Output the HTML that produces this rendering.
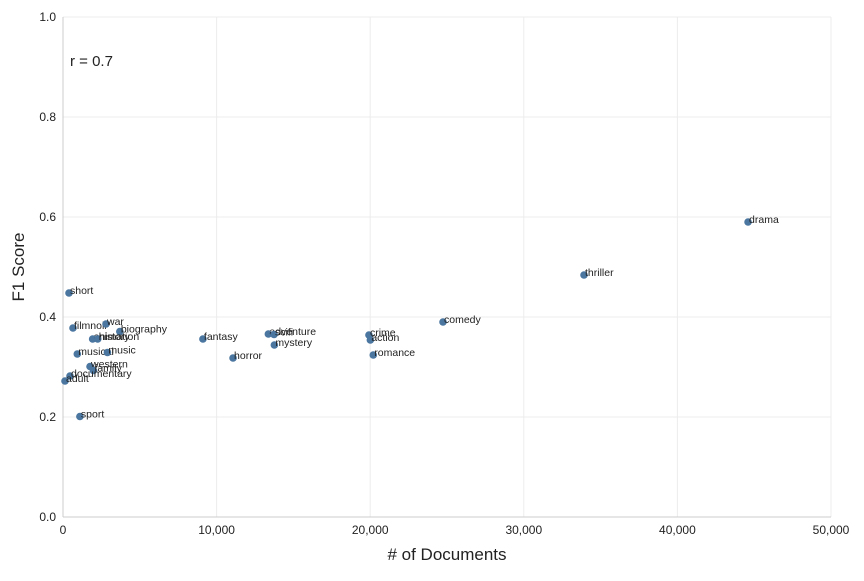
<!DOCTYPE html>
<html><head><meta charset="utf-8"><style>
body{margin:0;background:#fff;font-family:"Liberation Sans",sans-serif;}
text{font-family:"Liberation Sans",sans-serif;fill:#222;}
</style></head><body>
<svg id="chart" width="864" height="576" xmlns="http://www.w3.org/2000/svg">
<g id="grid"></g>
<g id="axes"></g>
<g id="marks"></g>
<text x="70" y="66" font-size="15">r = 0.7</text>
<text x="447" y="560" font-size="17" text-anchor="middle"># of Documents</text>
<text transform="translate(24,267) rotate(-90)" font-size="17" text-anchor="middle">F1 Score</text>
</svg>
<script>
const genres=["short","filmnoir","war","biography","animation","history","musical","music","western","family","documentary","adult","sport","fantasy","horror","adventure","scifi","mystery","crime","action","romance","comedy","thriller","drama"];
const docs=[390,650,2800,3700,1930,2260,930,2890,1760,1980,455,130,1100,9110,11070,13370,13740,13760,19920,20010,20200,24740,33920,44600];
const f1=[0.448,0.378,0.386,0.371,0.356,0.356,0.326,0.329,0.301,0.293,0.282,0.272,0.201,0.356,0.318,0.366,0.365,0.344,0.364,0.354,0.324,0.39,0.484,0.59];
const xTicks=[0,10000,20000,30000,40000,50000];
const xTickLabels=["0","10,000","20,000","30,000","40,000","50,000"];
const yTicks=[0,0.2,0.4,0.6,0.8,1.0];
const yTickLabels=["0.0","0.2","0.4","0.6","0.8","1.0"];
const NS="http://www.w3.org/2000/svg";
const X0=63,X1=831,Y0=517,Y1=17;
const xs=v=>X0+v/50000*(X1-X0);
const ys=v=>Y0-v*(Y0-Y1);
function mk(t,a,p){const e=document.createElementNS(NS,t);for(const k in a)e.setAttribute(k,a[k]);p.appendChild(e);return e;}
const grid=document.getElementById('grid'),axes=document.getElementById('axes'),marks=document.getElementById('marks');
xTicks.forEach((t,i)=>{
 const l=mk('line',{x1:xs(t),x2:xs(t),y1:Y1,y2:Y0,stroke:'#ececec'},grid);
 
 
 const tx=mk('text',{x:xs(t),y:Y0+17,'font-size':12,'text-anchor':'middle'},axes);
 tx.textContent=xTickLabels[i];
 
 
});
yTicks.forEach((t,i)=>{
 const l=mk('line',{x1:X0,x2:X1,y1:ys(t),y2:ys(t),stroke:'#ececec'},grid);
 
 
 const tx=mk('text',{x:X0-7,y:ys(t)+4,'font-size':12,'text-anchor':'end'},axes);
 tx.textContent=yTickLabels[i];
 
 
});
const ax=mk('line',{x1:X0,x2:X0,y1:Y1,y2:Y0,stroke:'#ccc'},axes);


const bx=mk('line',{x1:X0,x2:X1,y1:Y0,y2:Y0,stroke:'#ccc'},axes);


genres.forEach((g,i)=>{
 const c=mk('circle',{cx:xs(docs[i]),cy:ys(f1[i]),r:3.8,fill:'#4a76a0'},marks);
 
 
 const t=mk('text',{x:xs(docs[i])+1,y:ys(f1[i])+1,'font-size':10.5},marks);
 t.textContent=g;
 
 
});
</script>
</body></html>
